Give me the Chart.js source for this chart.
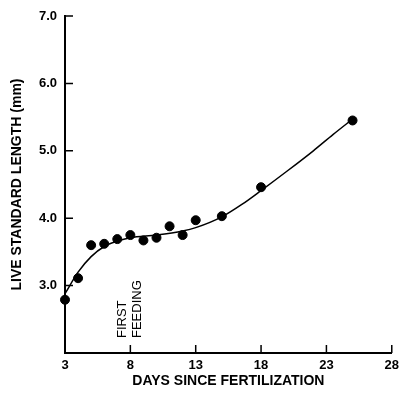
<!DOCTYPE html>
<html lang="en">
    <head>
        <meta charset="UTF-8">
        <title>Live standard length</title>
        <style>
            body { margin: 0; background: #fff; }
        </style>
    </head>
    <body>
        <canvas id="myChart" width="404" height="395"></canvas>
        <script src="https://cdn.jsdelivr.net/npm/chart.js@4.4.0/dist/chart.umd.min.js"></script>
        <script>
            // measured points
            const days = [3, 4, 5, 6, 7, 8, 9, 10, 11, 12, 13, 15, 18, 25];
            const lengths = [2.79, 3.11, 3.60, 3.62, 3.69, 3.75, 3.67, 3.71, 3.88, 3.75, 3.97, 4.03, 4.46, 5.45];
            // fitted curve
            const fitDays = [3, 4, 5, 6, 7, 8, 10, 12, 13, 15, 16.5, 18, 20, 22, 23.5, 25];
            const fitLengths = [2.88, 3.2, 3.43, 3.58, 3.66, 3.71, 3.75, 3.81, 3.86, 4.02, 4.2, 4.41, 4.7, 5.0, 5.24, 5.47];
            const xTicks = [3, 8, 13, 18, 23, 28];
            const yTicks = [2, 3, 4, 5, 6, 7];
            const noteLines = ['FIRST', 'FEEDING'];
            const noteDay = 8;

            const font = "'Liberation Sans', Arial, sans-serif";

            // tick marks point into the plot, so draw them by hand
            const innerTicks = {
                id: 'innerTicks',
                afterDraw(chart) {
                    const c = chart.ctx, x = chart.scales.x, y = chart.scales.y;
                    const a = chart.chartArea;
                    c.save();
                    c.strokeStyle = '#000';
                    c.lineWidth = 1.5;
                    c.beginPath();
                    xTicks.slice(1).forEach(function (t) {
                        const px = x.getPixelForValue(t);
                        c.moveTo(px, a.bottom);
                        c.lineTo(px, a.bottom - 8);
                    });
                    yTicks.slice(1).forEach(function (t) {
                        const py = y.getPixelForValue(t);
                        c.moveTo(a.left, py);
                        c.lineTo(a.left + 8, py);
                    });
                    c.stroke();

                    // first feeding note
                    c.fillStyle = '#000';
                    c.font = '13px ' + font;
                    c.textAlign = 'left';
                    c.textBaseline = 'middle';
                    const base = x.getPixelForValue(noteDay);
                    noteLines.forEach(function (txt, i) {
                        c.save();
                        c.translate(base - 8 + i * 15, a.bottom - 15);
                        c.rotate(-Math.PI / 2);
                        c.fillText(txt, 0, 0);
                        c.restore();
                    });
                    c.restore();
                }
            };

            var ctx = document.getElementById('myChart').getContext('2d');
            new Chart(ctx, {
                type: 'scatter',
                data: {
                    datasets: [{
                        data: fitDays.map(function (d, i) { return {x: d, y: fitLengths[i]}; }),
                        showLine: true,
                        borderColor: '#000',
                        borderWidth: 1.5,
                        pointRadius: 0,
                        cubicInterpolationMode: 'monotone',
                        clip: false
                    }, {
                        data: days.map(function (d, i) { return {x: d, y: lengths[i]}; }),
                        backgroundColor: '#000',
                        borderColor: '#000',
                        pointRadius: 4.5,
                        clip: false
                    }]
                },
                options: {
                    responsive: false,
                    animation: false,
                    devicePixelRatio: 1,
                    layout: { padding: { top: 16, right: 8 } },
                    plugins: { legend: { display: false }, tooltip: { enabled: false } },
                    scales: {
                        x: {
                            type: 'linear',
                            min: 3,
                            max: 28,
                            afterFit: function (s) { s.height = 42; },
                            afterBuildTicks: function (s) { s.ticks = xTicks.map(function (v) { return {value: v}; }); },
                            grid: { display: false, drawTicks: false, tickLength: 0 },
                            border: { display: true, color: '#000', width: 2 },
                            ticks: { color: '#000', padding: 5, maxRotation: 0, font: { family: font, size: 13, weight: 'bold' } },
                            title: {
                                display: true,
                                text: 'DAYS SINCE FERTILIZATION',
                                color: '#000',
                                padding: { top: 0, bottom: 5 },
                                font: { family: font, size: 14, weight: 'bold' }
                            }
                        },
                        y: {
                            min: 2,
                            max: 7,
                            afterFit: function (s) { s.width = 65; },
                            afterBuildTicks: function (s) { s.ticks = yTicks.map(function (v) { return {value: v}; }); },
                            grid: { display: false, drawTicks: false, tickLength: 0 },
                            border: { display: true, color: '#000', width: 2 },
                            ticks: {
                                color: '#000',
                                padding: 8,
                                font: { family: font, size: 13, weight: 'bold' },
                                callback: function (v) { return v === 2 ? '' : v.toFixed(1); }
                            },
                            title: {
                                display: true,
                                text: 'LIVE STANDARD LENGTH (mm)',
                                color: '#000',
                                padding: { top: 9, bottom: 0 },
                                font: { family: font, size: 14, weight: 'bold' }
                            }
                        }
                    }
                },
                plugins: [innerTicks]
            });
        </script>
    </body>
</html>
